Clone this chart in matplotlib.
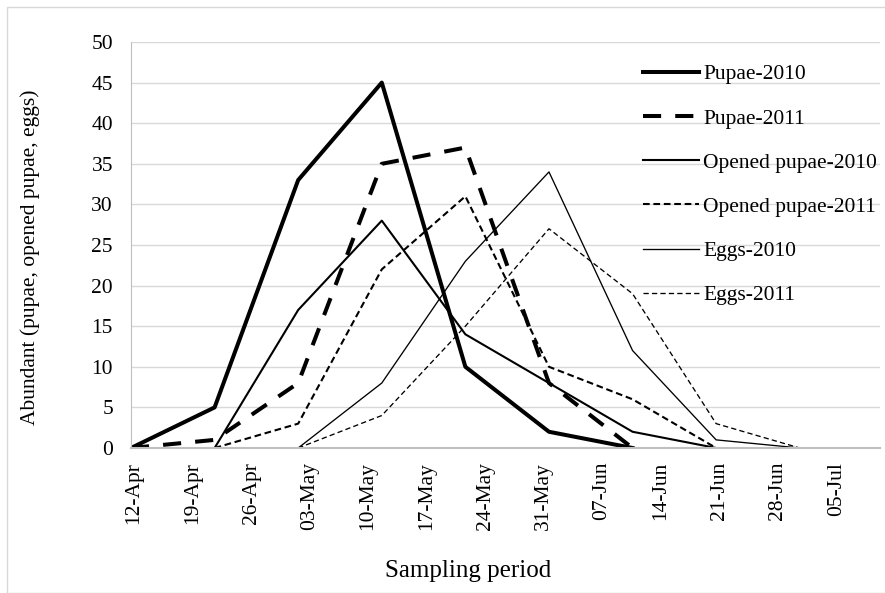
import matplotlib
matplotlib.use('Agg')
import matplotlib.pyplot as plt
import matplotlib.dates as mdates
import pandas as pd
from matplotlib.patches import Rectangle
from matplotlib.transforms import ScaledTranslation

plt.rcParams['font.family'] = ['Liberation Serif', 'DejaVu Serif']

# sampling dates (every 10 days)
dates = pd.to_datetime(['2010-04-12', '2010-04-22', '2010-05-02', '2010-05-12', '2010-05-22',
                        '2010-06-01', '2010-06-11', '2010-06-21', '2010-07-01'])

pupae_2010 = [0, 5, 33, 45, 10, 2, 0]
pupae_2011 = [0, 1, 8, 35, 37, 8, 0]
opened_2010 = [0, 17, 28, 14, 8, 2, 0]
opened_2011 = [0, 3, 22, 31, 10, 6, 0]
eggs_2010 = [0, 8, 23, 34, 12, 1, 0]
eggs_2011 = [0, 4, 15, 27, 19, 3, 0]

tick_dates = pd.date_range('2010-04-12', '2010-07-05', freq='7D')

fig = plt.figure(figsize=(8.85, 5.93), dpi=100)
ax = fig.add_axes([131/885, 1 - 448/593, (880-131)/885, (448-42)/593])

ax.plot(dates[0:7], pupae_2010, color='black', lw=2.9, label='Pupae-2010')
ax.plot(dates[0:7], pupae_2011, color='black', lw=2.9, dashes=(4.5, 3.5), label='Pupae-2011')
ax.plot(dates[1:8], opened_2010, color='black', lw=1.5, label='Opened pupae-2010')
ax.plot(dates[1:8], opened_2011, color='black', lw=1.5, dashes=(3.2, 1.8), label='Opened pupae-2011')
ax.plot(dates[2:9], eggs_2010, color='black', lw=0.95, label='Eggs-2010')
ax.plot(dates[2:9], eggs_2011, color='black', lw=0.95, dashes=(4, 2.4), label='Eggs-2011')

ax.set_xlim(pd.Timestamp('2010-04-12'), pd.Timestamp('2010-04-12') + pd.Timedelta(days=89.6))
ax.set_ylim(0, 50)
ax.set_yticks(range(0, 51, 5))
ax.set_xticks(tick_dates)
ax.xaxis.set_major_formatter(mdates.DateFormatter('%d-%b'))
ax.tick_params(axis='y', length=0, labelsize=15.5, pad=13)
ax.tick_params(axis='x', length=0, labelsize=15.5, pad=10)
shift = ScaledTranslation(3/100, 0, fig.dpi_scale_trans)
for lab in ax.get_xticklabels():
    lab.set_rotation(90)
    lab.set_transform(lab.get_transform() + shift)

ax.grid(axis='y', color='#d9d9d9', lw=1)
ax.set_axisbelow(True)
for s in ['top', 'right']:
    ax.spines[s].set_visible(False)
ax.spines['left'].set_color('#bfbfbf')
ax.spines['bottom'].set_color('#bfbfbf')
ax.spines['bottom'].set_linewidth(1.5)

ax.set_ylabel('Abundant (pupae, opened pupae, eggs)', fontsize=15.5)
ax.yaxis.set_label_coords(-0.1215, 0.47)
ax.set_xlabel('Sampling period', fontsize=18)
ax.xaxis.set_label_coords(0.45, -0.275)

ax.legend(loc='upper left', bbox_to_anchor=(0.672, 0.966), frameon=False, fontsize=15.5,
          handlelength=2.6, handletextpad=0.2, labelspacing=1.12, borderaxespad=0)

fig.patches.append(Rectangle((7/885, 0), 1, 1 - 7/593, transform=fig.transFigure,
                             fill=False, edgecolor='#d9d9d9', lw=1))

fig.savefig('out.png', dpi=100)
